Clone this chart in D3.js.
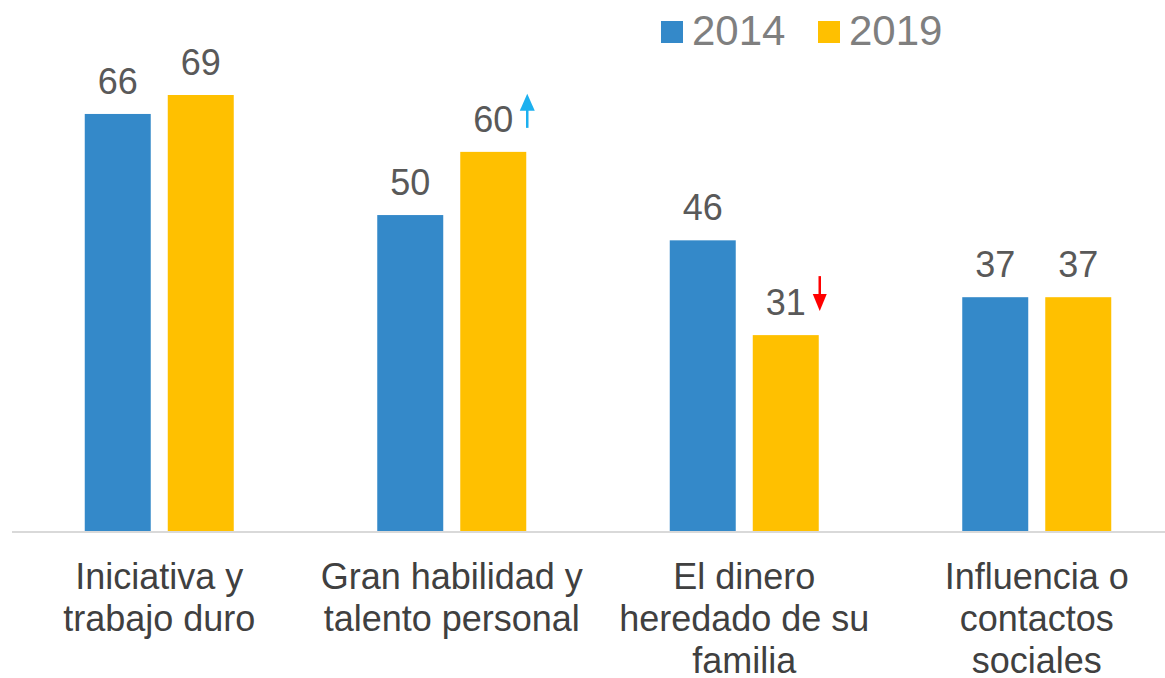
<!doctype html>
<html lang="es">
<head>
    <meta charset="utf-8">
    <title></title>
    <script src="https://d3js.org/d3.v7.min.js"></script>
    <style type="text/css">
        body { margin: 0; background: #fff; }
        svg { display: block; font-family: "Liberation Sans", Arial, sans-serif; }
    </style>
</head>

<body>
</body>

<script type="text/javascript">

    var categories = [["Iniciativa y", "trabajo duro"],
                      ["Gran habilidad y", "talento personal"],
                      ["El dinero", "heredado de su", "familia"],
                      ["Influencia o", "contactos", "sociales"]];
    var series   = ["2014", "2019"];
    var values2014 = [66, 50, 46, 37];
    var values2019 = [69, 60, 31, 37];
    // arrow next to the 2019 label: change versus 2014
    var change2019 = ["", "up", "down", ""];

    var colors = {"2014": "#3489c9", "2019": "#ffc000"};

    var pixel_width  = 1165;
    var pixel_height = 678;
    var baseline = 531;

    var rows = categories.map((c, i) => ({
        label: c,
        vals: [{s: "2014", v: values2014[i]}, {s: "2019", v: values2019[i], change: change2019[i]}]
    }));

    var x0 = d3.scaleBand()
               .domain(d3.range(categories.length))
               .range([13, 1183]);

    var x1 = d3.scaleBand()
               .domain(series)
               .range([-74.5, 74.5])
               .paddingInner(0.205);

    var yScale = d3.scaleLinear()
                   .domain([0, 69])
                   .range([baseline, 95]);

    var svg = d3.select("body")
                .append("svg")
                .attr("width", pixel_width)
                .attr("height", pixel_height);

    // axis line
    svg.append("line")
       .attr("x1", 12).attr("x2", pixel_width)
       .attr("y1", baseline + 1).attr("y2", baseline + 1)
       .style("stroke", "#d9d9d9")
       .style("stroke-width", 2);

    var groups = svg.selectAll("g.cat").data(rows)
                    .enter()
                    .append("g")
                    .attr("class", "cat")
                    .attr("transform", (d, i) => "translate(" + (x0(i) + x0.bandwidth() / 2) + ",0)");

    groups.selectAll("rect").data(d => d.vals)
          .enter()
          .append("rect")
          .attr("x", d => x1(d.s))
          .attr("y", d => yScale(d.v))
          .attr("width", x1.bandwidth())
          .attr("height", d => baseline - yScale(d.v))
          .style("fill", d => colors[d.s]);

    groups.selectAll("text.val").data(d => d.vals)
          .enter()
          .append("text")
          .attr("class", "val")
          .attr("x", d => x1(d.s) + x1.bandwidth() / 2)
          .attr("y", d => yScale(d.v) - 20)
          .attr("text-anchor", "middle")
          .style("font-size", "36px")
          .style("fill", "#595959")
          .text(d => d.v);

    // change arrows
    var arrows = groups.selectAll("g.arrow").data(d => d.vals.filter(v => v.change))
          .enter()
          .append("g")
          .attr("class", "arrow")
          .attr("transform", d => "translate(" + (x1(d.s) + x1.bandwidth() / 2 + 34) + "," + yScale(d.v) + ")");

    arrows.append("line")
          .attr("x1", 0).attr("x2", 0)
          .attr("y1", d => d.change == "up" ? -24 : -59)
          .attr("y2", d => d.change == "up" ? -48 : -34)
          .style("stroke", d => d.change == "up" ? "#1cb0ef" : "#ff0000")
          .style("stroke-width", 2.5);

    arrows.append("path")
          .attr("d", d => d.change == "up"
                ? "M-7.5,-41 L0,-58 L7.5,-41 Z"
                : "M-7,-41 L0,-24 L7,-41 Z")
          .style("fill", d => d.change == "up" ? "#1cb0ef" : "#ff0000");

    // category labels
    groups.append("text")
          .attr("text-anchor", "middle")
          .style("font-size", "36px")
          .style("fill", "#404040")
          .selectAll("tspan").data(d => d.label)
          .enter()
          .append("tspan")
          .attr("x", 0)
          .attr("y", (d, i) => 589 + i * 42)
          .text(d => d);

    // legend
    var legend = svg.selectAll("g.legend").data(series)
                    .enter()
                    .append("g")
                    .attr("class", "legend")
                    .attr("transform", (d, i) => "translate(" + (661 + i * 157) + ",0)");

    legend.append("rect")
          .attr("x", 0).attr("y", 21)
          .attr("width", 22).attr("height", 22)
          .style("fill", d => colors[d]);

    legend.append("text")
          .attr("x", 31).attr("y", 45)
          .style("font-size", "42px")
          .style("fill", "#7f7f7f")
          .text(d => d);

</script>

</html>
